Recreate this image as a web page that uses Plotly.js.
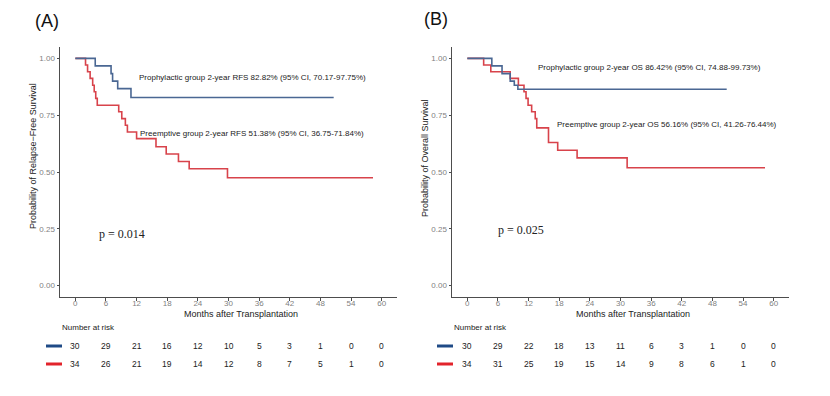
<!DOCTYPE html>
<html>
<head>
<meta charset="utf-8">
<script src="https://cdn.plot.ly/plotly-3.0.1.min.js"></script>
<style>html,body{margin:0;padding:0;background:#fff;}#chart{width:830px;height:396px;}</style>
</head>
<body>
<div id="chart"></div>
<script>
// ---- Data ----
const tickMonths = [0, 6, 12, 18, 24, 30, 36, 42, 48, 54, 60];

// Panel A: Relapse-free survival
const rfsProT = [0, 3.9, 7.0, 7.3, 8.3, 10.9, 50.6];
const rfsProS = [1, 0.967, 0.933, 0.900, 0.867, 0.828, 0.828];
const rfsPreT = [0, 2.0, 2.4, 2.9, 3.4, 3.7, 4.0, 4.3, 8.5, 9.1, 9.8, 10.2, 12.0, 15.8, 17.8, 20.2, 22.3, 29.8, 58.3];
const rfsPreS = [1, 0.971, 0.941, 0.912, 0.882, 0.853, 0.824, 0.794, 0.765, 0.735, 0.706, 0.676, 0.647, 0.611, 0.579, 0.546, 0.514, 0.475, 0.475];

// Panel B: Overall survival
const osProT = [0, 4.8, 6.8, 8.4, 9.2, 9.9, 50.8];
const osProS = [1, 0.967, 0.933, 0.900, 0.882, 0.864, 0.864];
const osPreT = [0, 3.2, 4.6, 8.4, 10.0, 11.1, 11.5, 11.9, 12.6, 13.3, 13.6, 15.9, 17.7, 21.5, 31.3, 58.3];
const osPreS = [1, 0.971, 0.941, 0.912, 0.882, 0.853, 0.824, 0.794, 0.765, 0.735, 0.694, 0.630, 0.596, 0.562, 0.519, 0.519];

// Number at risk
const riskAPro = [30, 29, 21, 16, 12, 10, 5, 3, 1, 0, 0];
const riskAPre = [34, 26, 21, 19, 14, 12, 8, 7, 5, 1, 0];
const riskBPro = [30, 29, 22, 18, 13, 11, 6, 3, 1, 0, 0];
const riskBPre = [34, 31, 25, 19, 15, 14, 9, 8, 6, 1, 0];

// Texts
const labelA = "(A)", labelB = "(B)";
const yTitleA = "Probability of Relapse\u2212Free Survival";
const yTitleB = "Probability of Overall Survival";
const xTitle = "Months after Transplantation";
const noteAPro = "Prophylactic group 2-year RFS 82.82% (95% CI, 70.17-97.75%)";
const noteAPre = "Preemptive group 2-year RFS 51.38% (95% CI, 36.75-71.84%)";
const noteBPro = "Prophylactic group 2-year OS 86.42% (95% CI, 74.88-99.73%)";
const noteBPre = "Preemptive group 2-year OS 56.16% (95% CI, 41.26-76.44%)";
const pA = "p = 0.014", pB = "p = 0.025";
const riskHeader = "Number at risk";

// ---- Styles ----
const W = 830, H = 396;
const BLUE = '#4a6793', RED = '#d8434b';
const BLUE_KEY = '#1f4a86', RED_KEY = '#e2232b';
const SANS = 'Liberation Sans, Arial, sans-serif';
const SERIF = 'Liberation Serif, Times New Roman, serif';
const AX = '#4d4d4d';

function px(x) { return x / W; }
function py(y) { return 1 - y / H; }

function step(t, s, color, xa, ya) {
  return { x: t, y: s, type: 'scatter', mode: 'lines', line: { shape: 'hv', color: color, width: 1.6 },
           xaxis: xa, yaxis: ya, hoverinfo: 'skip', showlegend: false };
}

const traces = [
  step(rfsPreT, rfsPreS, RED, 'x', 'y'),
  step(rfsProT, rfsProS, BLUE, 'x', 'y'),
  step(osPreT, osPreS, RED, 'x2', 'y2'),
  step(osProT, osProS, BLUE, 'x2', 'y2')
];

function xAxis(domain, anchor) {
  return { domain: domain, anchor: anchor, range: [-3, 63], tickvals: tickMonths, ticktext: tickMonths.map(String),
    showline: true, linecolor: AX, linewidth: 1, ticks: 'outside', ticklen: 2.5, tickcolor: AX,
    ticklabelstandoff: -4,
    showgrid: false, zeroline: false, tickfont: { family: SANS, size: 8, color: '#7f7f7f' } };
}
function yAxis(domain, anchor) {
  return { domain: domain, range: [-0.05, 1.05], anchor: anchor, tickvals: [0, 0.25, 0.5, 0.75, 1],
    ticktext: ['0.00', '0.25', '0.50', '0.75', '1.00'],
    showline: true, linecolor: AX, linewidth: 1, ticks: 'outside', ticklen: 2.5, tickcolor: AX,
    showgrid: false, zeroline: false, tickfont: { family: SANS, size: 8, color: '#7f7f7f' } };
}

const yDom = [py(297), py(47)];
const layout = {
  width: W, height: H, margin: { l: 0, r: 0, t: 0, b: 0 },
  paper_bgcolor: '#fff', plot_bgcolor: '#fff', showlegend: false,
  xaxis: xAxis([px(60), px(397)], 'y'),
  yaxis: yAxis(yDom, 'x'),
  xaxis2: xAxis([px(452), px(789)], 'y2'),
  yaxis2: yAxis(yDom, 'x2'),
  annotations: [],
  shapes: []
};

const ann = layout.annotations;
function note(text, x, y, xref, yref, opts) {
  ann.push(Object.assign({ text: text, x: x, y: y, xref: xref, yref: yref, showarrow: false,
    xanchor: 'left', yanchor: 'middle', font: { family: SANS, size: 8, color: '#222' } }, opts || {}));
}
// panel labels
note(labelA, px(33), py(21), 'paper', 'paper', { font: { family: SANS, size: 18, color: '#111' } });
note(labelB, px(422), py(19), 'paper', 'paper', { font: { family: SANS, size: 18, color: '#111' } });
// axis titles
const titleFont = { family: SANS, size: 9, color: '#222' };
note(xTitle, px(241), py(313.5), 'paper', 'paper', { xanchor: 'center', font: titleFont });
note(xTitle, px(633), py(313.5), 'paper', 'paper', { xanchor: 'center', font: titleFont });
note(yTitleA, px(33), py(156), 'paper', 'paper', { xanchor: 'center', textangle: -90, font: titleFont });
note(yTitleB, px(425), py(158), 'paper', 'paper', { xanchor: 'center', textangle: -90, font: titleFont });
// curve notes
note(noteAPro, 12.1, 0.918, 'x', 'y');
note(noteAPre, 12.3, 0.670, 'x', 'y');
note(noteBPro, 13.4, 0.962, 'x2', 'y2');
note(noteBPre, 17.2, 0.711, 'x2', 'y2');
// p values
note(pA, 9.1, 0.227, 'x', 'y', { xanchor: 'center', font: { family: SERIF, size: 12, color: '#222' } });
note(pB, 10.6, 0.245, 'x2', 'y2', { xanchor: 'center', font: { family: SERIF, size: 12, color: '#222' } });
// risk table
note(riskHeader, px(60), py(327), 'paper', 'paper');
note(riskHeader, px(452), py(327), 'paper', 'paper');
function riskRow(vals, xref, yPix) {
  vals.forEach((v, i) => note(String(v), tickMonths[i], py(yPix), xref, 'paper',
    { xanchor: 'center', font: { family: SANS, size: 8.5, color: '#222' } }));
}
riskRow(riskAPro, 'x', 346); riskRow(riskAPre, 'x', 364);
riskRow(riskBPro, 'x2', 346); riskRow(riskBPre, 'x2', 364);

function key(x0, x1, yPix, color) {
  layout.shapes.push({ type: 'line', xref: 'paper', yref: 'paper', x0: px(x0), x1: px(x1), y0: py(yPix), y1: py(yPix),
    line: { color: color, width: 3 } });
}
key(46, 62, 346, BLUE_KEY); key(46, 62, 364, RED_KEY);
key(437, 453, 346, BLUE_KEY); key(437, 453, 364, RED_KEY);

Plotly.newPlot('chart', traces, layout, { staticPlot: true, displayModeBar: false });
</script>
</body>
</html>
